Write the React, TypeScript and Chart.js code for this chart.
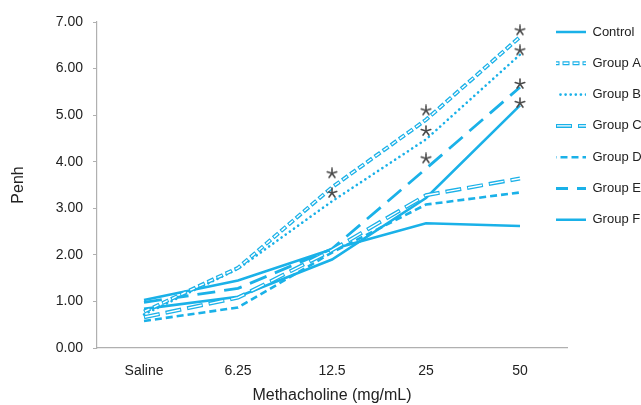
import React, { useEffect, useRef } from "react";
import { Chart, registerables } from "chart.js";

Chart.register(...registerables);

const categories = ["Saline", "6.25", "12.5", "25", "50"];
const controlValues = [1.03, 1.45, 2.12, 2.68, 2.62];
const groupA = [0.78, 1.72, 3.45, 4.9, 6.68];
const groupB = [0.72, 1.7, 3.15, 4.48, 6.3];
const groupC = [0.66, 1.08, 2.1, 3.28, 3.64];
const groupD = [0.58, 0.87, 2.05, 3.08, 3.34];
const groupE = [0.98, 1.28, 2.13, 3.85, 5.6];
const groupF = [0.84, 1.1, 1.9, 3.22, 5.21];
const starCategories = ["12.5", "12.5", "25", "25", "25", "50", "50", "50", "50"];
const starValues = [3.75, 3.33, 5.1, 4.66, 4.07, 6.82, 6.39, 5.67, 5.26];
const yTicks = [0, 1, 2, 3, 4, 5, 6, 7];

const BLUE = "#1ab1e8";
const FONT = "'Liberation Sans', Arial, sans-serif";

function makeStar(): HTMLCanvasElement {
  const c = document.createElement("canvas");
  c.width = 12;
  c.height = 12;
  const ctx = c.getContext("2d")!;
  ctx.strokeStyle = "#4a4a4a";
  ctx.lineWidth = 1.6;
  ctx.lineCap = "round";
  for (let i = 0; i < 5; i++) {
    const a = -Math.PI / 2 + (i * 2 * Math.PI) / 5;
    ctx.beginPath();
    ctx.moveTo(6, 6);
    ctx.lineTo(6 + Math.cos(a) * 5, 6 + Math.sin(a) * 5);
    ctx.stroke();
  }
  return c;
}

const LEGEND_PAD = 18.3;
const LEGEND_FONT = 13;
const LEGEND_BOX = 30;
const HOLLOW: Record<string, { dash: number[]; offset: number }> = {
  "Group A": { dash: [5, 5], offset: -1 },
  "Group C": { dash: [14, 8], offset: -1 },
};

const legendShift = {
  id: "legendShift",
  afterLayout(chart: any) {
    const l = chart.legend;
    if (!l) return;
    l.left = 556 - LEGEND_PAD;
    l.top = 32 - LEGEND_FONT / 2 - LEGEND_PAD;
  },
  afterDraw(chart: any) {
    const l = chart.legend;
    if (!l || !l.legendItems || !l.legendHitBoxes) return;
    const ctx = chart.ctx;
    l.legendItems.forEach((item: any, i: number) => {
      const h = HOLLOW[item.text];
      const box = l.legendHitBoxes[i];
      if (!h || !box) return;
      const y = box.top + LEGEND_FONT / 2;
      ctx.save();
      ctx.strokeStyle = "#ffffff";
      ctx.lineWidth = 1.4;
      ctx.setLineDash(h.dash);
      ctx.lineDashOffset = item.lineDashOffset + h.offset;
      ctx.beginPath();
      ctx.moveTo(box.left, y);
      ctx.lineTo(box.left + LEGEND_BOX, y);
      ctx.stroke();
      ctx.restore();
    });
  },
};

export default function App() {
  const ref = useRef<HTMLCanvasElement | null>(null);
  useEffect(() => {
    document.body.style.margin = "0";
    const star = makeStar();
    const line = (label: string, data: number[], extra: any) => ({
      type: "line",
      label,
      data,
      borderColor: BLUE,
      backgroundColor: "transparent",
      borderWidth: 2.6,
      pointRadius: 0,
      fill: false,
      tension: 0,
      ...extra,
    });
    const chart = new Chart(ref.current!, {
      type: "line",
      data: {
        labels: categories,
        datasets: [
          line("", groupA, { borderColor: "#ffffff", borderWidth: 1.4, borderDash: [5, 5], borderDashOffset: -1 }),
          line("", groupC, { borderColor: "#ffffff", borderWidth: 1.4, borderDash: [14, 8], borderDashOffset: -1 }),
          {
            type: "line",
            label: "",
            data: starCategories.map((c, i) => ({ x: c, y: starValues[i] })),
            showLine: false,
            pointStyle: star,
            pointRadius: 6,
            borderColor: "#4a4a4a",
            backgroundColor: "#4a4a4a",
          },
          line("Control", controlValues, {}),
          line("Group A", groupA, { borderWidth: 4, borderDash: [7, 3] }),
          line("Group B", groupB, { borderWidth: 2.6, borderDash: [0.1, 5], borderCapStyle: "round" }),
          line("Group C", groupC, { borderWidth: 4, borderDash: [16, 6] }),
          line("Group D", groupD, { borderDash: [7, 4] }),
          line("Group E", groupE, { borderWidth: 2.8, borderDash: [18, 9] }),
          line("Group F", groupF, {}),
        ] as any,
      },
      options: {
        animation: false,
        responsive: false,
        maintainAspectRatio: false,
        layout: { padding: { top: 22, left: 0, right: 0, bottom: 0 } },
        plugins: {
          tooltip: { enabled: false },
          legend: {
            position: "right",
            align: "start",
            maxWidth: 74,
            labels: {
              filter: (item: any) => item.text !== "",
              generateLabels: (chart: any) => {
                const items = Chart.defaults.plugins.legend.labels.generateLabels(chart);
                return items.map((it: any) => {
                  const dash = it.lineDash || [];
                  if (dash.length === 2) {
                    // make the out-and-back stroke of the flat legend box land on itself
                    it.lineDashOffset = (dash[0] - 2 * LEGEND_BOX) / 2;
                  }
                  return it;
                });
              },
              boxWidth: LEGEND_BOX,
              boxHeight: 0,
              padding: LEGEND_PAD,
              color: "#222",
              font: { family: FONT, size: LEGEND_FONT },
            },
          },
        },
        scales: {
          x: {
            type: "category",
            offset: true,
            grid: { display: false },
            border: { display: true, color: "#b0b0b0", width: 1.2 },
            ticks: { color: "#222", padding: 7, font: { family: FONT, size: 14 } },
            title: {
              display: true,
              text: "Methacholine (mg/mL)",
              color: "#222",
              font: { family: FONT, size: 16 },
              padding: { top: 0, bottom: 0 },
            },
            afterFit: (s: any) => {
              s.height = 57;
            },
          },
          y: {
            min: 0,
            max: 7,
            afterBuildTicks: (s: any) => {
              s.ticks = yTicks.map((v) => ({ value: v }));
            },
            grid: { display: true, drawOnChartArea: false, drawTicks: true, tickLength: 4, color: "#b0b0b0" },
            border: { display: true, color: "#b0b0b0", width: 1.2 },
            ticks: {
              color: "#222",
              padding: 10,
              font: { family: FONT, size: 14 },
              callback: (v: any) => Number(v).toFixed(2),
            },
            title: {
              display: true,
              text: "Penh",
              color: "#222",
              font: { family: FONT, size: 16 },
              padding: { top: 9, bottom: 0 },
            },
            afterFit: (s: any) => {
              s.width = 97;
            },
          },
        },
      } as any,
      plugins: [legendShift],
    });
    return () => chart.destroy();
  }, []);
  return (
    <div style={{ width: 641, height: 405 }}>
      <canvas ref={ref} width={641} height={405} style={{ width: 641, height: 405, display: "block" }} />
    </div>
  );
}
